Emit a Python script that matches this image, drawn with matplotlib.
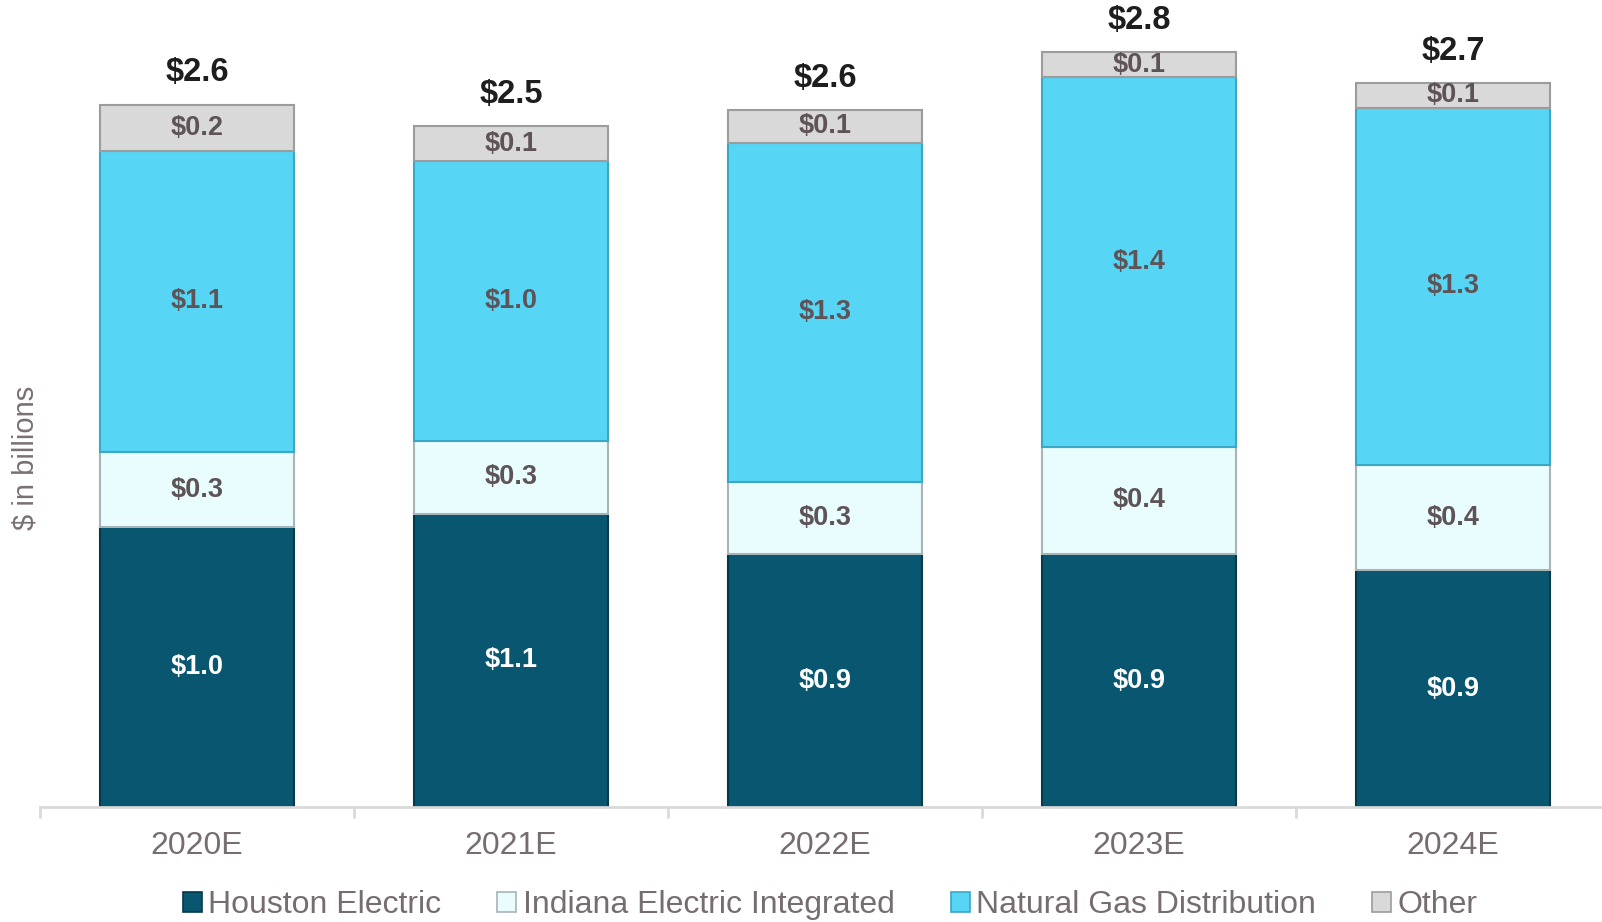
import numpy as np
import matplotlib
matplotlib.use("Agg")
from matplotlib import pyplot as plt
from matplotlib.patches import Patch

plt.rcParams['font.family'] = ['Liberation Sans', 'DejaVu Sans']

years = ["2020E", "2021E", "2022E", "2023E", "2024E"]
houston = [1.04, 1.09, 0.94, 0.94, 0.88]
indiana = [0.28, 0.27, 0.27, 0.40, 0.39]
gas = [1.12, 1.04, 1.26, 1.375, 1.33]
other = [0.17, 0.13, 0.12, 0.09, 0.09]

houston_lbl = ["$1.0", "$1.1", "$0.9", "$0.9", "$0.9"]
indiana_lbl = ["$0.3", "$0.3", "$0.3", "$0.4", "$0.4"]
gas_lbl = ["$1.1", "$1.0", "$1.3", "$1.4", "$1.3"]
other_lbl = ["$0.2", "$0.1", "$0.1", "$0.1", "$0.1"]
total_lbl = ["$2.6", "$2.5", "$2.6", "$2.8", "$2.7"]

series = [
    ("Houston Electric", houston, houston_lbl, "#08566F", "#04394a", "white"),
    ("Indiana Electric Integrated", indiana, indiana_lbl, "#E9FDFF", "#a9b4b6", "#5E5357"),
    ("Natural Gas Distribution", gas, gas_lbl, "#56D5F5", "#3aa7c4", "#5E5357"),
    ("Other", other, other_lbl, "#D9D9D9", "#9c9c9c", "#5E5357"),
]

fig = plt.figure(figsize=(16.02, 9.22), dpi=100)
ax = fig.add_axes([40 / 1602, 1 - 807 / 922, 1570 / 1602, 807 / 922])

x = np.arange(len(years))
bottom = np.zeros(len(years))
handles = []
for name, vals, lbls, col, edge, tcol in series:
    vals = np.array(vals)
    ax.bar(x, vals, 0.62, bottom=bottom, color=col, edgecolor=edge, linewidth=1.5, zorder=2)
    for i in range(len(x)):
        ax.text(x[i], bottom[i] + vals[i] / 2, lbls[i], ha='center', va='center',
                fontsize=19.5, fontweight='bold', color=tcol, zorder=3)
    bottom = bottom + vals
    handles.append(Patch(facecolor=col, edgecolor=edge, linewidth=1.2, label=name))

for i in range(len(x)):
    ax.annotate(total_lbl[i], (x[i], bottom[i]), xytext=(0, 23), textcoords='offset points',
                ha='center', va='center', fontsize=23.5, fontweight='bold', color='#1e1e1e')

ax.set_xlim(-0.5, 4.5)
ax.set_ylim(0, 3.0)
ax.set_yticks([])
for s in ['top', 'right', 'left']:
    ax.spines[s].set_visible(False)
ax.spines['bottom'].set_color('#d9d9d9')
ax.spines['bottom'].set_linewidth(2)
ax.set_xticks(np.arange(-0.5, 5, 1), minor=True)
ax.set_xticks(x)
ax.set_xticklabels(years)
ax.tick_params(axis='x', which='major', length=0, pad=17, labelsize=23, labelcolor='#776D70')
ax.tick_params(axis='x', which='minor', length=8, width=2, color='#d9d9d9')

fig.text(25 / 1602, 1 - 458 / 922, "$ in billions", rotation=90, ha='center', va='center',
         fontsize=21, color='#7A7073')

fig.legend(handles=handles, loc='center', bbox_to_anchor=(830 / 1602, 1 - 905 / 922), ncol=4,
           frameon=False, fontsize=23, handlelength=0.6, handleheight=0.6, handletextpad=0.2,
           columnspacing=1.75, labelcolor='#776D70')

fig.savefig("out.png", dpi=100)
